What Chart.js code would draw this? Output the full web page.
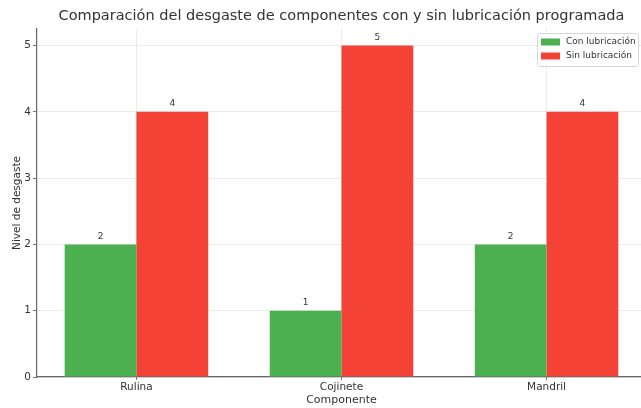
<!DOCTYPE html>
<html>
<head>
<meta charset="utf-8">
<script src="https://cdn.jsdelivr.net/npm/chart.js@4/dist/chart.umd.min.js"></script>
<style>
  html, body { margin: 0; padding: 0; background: #fff; overflow: hidden; }
  #wrap { width: 641px; height: 408px; overflow: hidden; position: relative; }
  canvas { display: block; }
</style>
</head>
<body>
<div id="wrap"><canvas id="c" width="650" height="408"></canvas></div>
<script>
const categories = ['Rulina', 'Cojinete', 'Mandril'];
const conLubricacion = [2, 1, 2];
const sinLubricacion = [4, 5, 4];
const seriesNames = ['Con lubricación', 'Sin lubricación'];
const yTicks = [0, 1, 2, 3, 4, 5];
const chartTitle = 'Comparación del desgaste de componentes con y sin lubricación programada';
const xTitle = 'Componente';
const yTitle = 'Nivel de desgaste';

const FONT = "'DejaVu Sans', sans-serif";
const TEXT = '#333333';

const overlay = {
  id: 'overlay',
  afterDatasetsDraw(chart) {
    const ctx = chart.ctx;
    const area = chart.chartArea;
    ctx.save();
    // value labels
    ctx.fillStyle = TEXT;
    ctx.font = '9px ' + FONT;
    ctx.textAlign = 'center';
    ctx.textBaseline = 'middle';
    chart.data.datasets.forEach((ds, i) => {
      const meta = chart.getDatasetMeta(i);
      meta.data.forEach((bar, j) => {
        ctx.fillText(String(ds.data[j]), bar.x, bar.y - 8);
      });
    });
    // legend
    const lx = 537, ly = 33, lw = 101, lh = 33;
    ctx.fillStyle = 'rgba(255,255,255,0.85)';
    ctx.strokeStyle = '#d8d8d8';
    ctx.lineWidth = 1;
    ctx.beginPath();
    ctx.roundRect(lx + 0.5, ly + 0.5, lw, lh, 2);
    ctx.fill();
    ctx.stroke();
    ctx.font = '9px ' + FONT;
    ctx.textAlign = 'left';
    chart.data.datasets.forEach((ds, i) => {
      const cy = 42 + i * 14;
      ctx.fillStyle = ds.backgroundColor;
      ctx.fillRect(541, cy - 3.5, 19, 7);
      ctx.fillStyle = TEXT;
      ctx.fillText(ds.label, 566, cy);
    });
    ctx.restore();
  },
  afterDraw(chart) {
    const ctx = chart.ctx;
    const area = chart.chartArea;
    ctx.save();
    ctx.fillStyle = TEXT;
    ctx.textAlign = 'center';
    ctx.textBaseline = 'middle';
    ctx.font = '14.5px ' + FONT;
    ctx.fillText(chartTitle, (area.left + area.right) / 2, 16);
    ctx.font = '11px ' + FONT;
    ctx.fillText(xTitle, (area.left + area.right) / 2, 400);
    ctx.translate(17, (area.top + area.bottom) / 2);
    ctx.rotate(-Math.PI / 2);
    ctx.font = '10.5px ' + FONT;
    ctx.fillText(yTitle, 0, 0);
    ctx.restore();
  }
};

new Chart(document.getElementById('c'), {
  type: 'bar',
  data: {
    labels: categories,
    datasets: [
      { label: seriesNames[0], data: conLubricacion, backgroundColor: '#4CAF50' },
      { label: seriesNames[1], data: sinLubricacion, backgroundColor: '#F44336' }
    ]
  },
  options: {
    responsive: false,
    animation: false,
    devicePixelRatio: 1,
    layout: { padding: { top: 29, right: 4, left: 0, bottom: 0 } },
    datasets: { bar: { categoryPercentage: 0.7, barPercentage: 1.0, borderWidth: 0 } },
    plugins: {
      legend: { display: false },
      title: { display: false },
      tooltip: { enabled: false }
    },
    scales: {
      x: {
        type: 'category',
        offset: true,
        afterBuildTicks(scale) {
          scale._startValue = -0.485;
          scale._valueRange = 2.97;
        },
        afterFit(scale) { scale.height = 31; },
        grid: {
          offset: false,
          color: 'rgba(0,0,0,0.10)',
          borderDash: [2, 2],
          tickBorderDash: [],
          tickColor: '#555',
          tickLength: 3,
          lineWidth: 0.8
        },
        border: { color: '#666', width: 1.2 },
        ticks: { color: TEXT, font: { family: FONT, size: 10.5 }, padding: 1, maxRotation: 0 }
      },
      y: {
        min: 0,
        max: 5.25,
        afterBuildTicks(scale) {
          scale.ticks = yTicks.map(v => ({ value: v }));
        },
        afterFit(scale) { scale.width = 37; },
        grid: {
          color: 'rgba(0,0,0,0.10)',
          borderDash: [2, 2],
          tickBorderDash: [],
          tickColor: '#555',
          tickLength: 4,
          lineWidth: 0.8
        },
        border: { color: '#666', width: 1.2 },
        ticks: { color: TEXT, font: { family: FONT, size: 10.5 }, padding: 2 }
      }
    }
  },
  plugins: [overlay]
});
</script>
</body>
</html>
